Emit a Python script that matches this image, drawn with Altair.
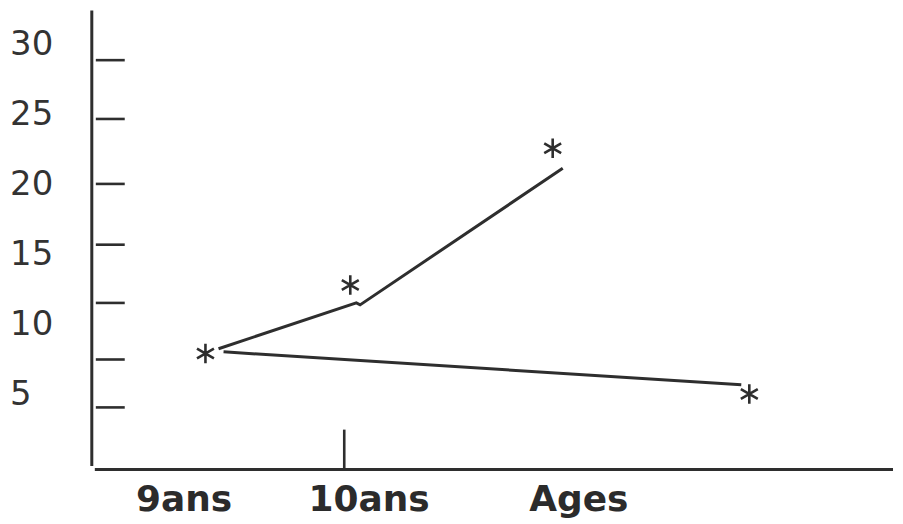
import altair as alt
import pandas as pd

# ---- data ----
y_label_values = [30, 25, 20, 15, 10, 5]
y_tick_values = [28.95, 24.74, 20.09, 15.74, 11.57, 7.52, 4.09]

line1_x = [9.50, 10.048, 10.063, 10.869]
line1_y = [8.29, 11.57, 11.43, 21.21]
line2_x = [9.52, 11.579]
line2_y = [8.07, 5.71]

star_x = [9.448, 10.024, 10.829, 11.611]
star_y = [7.95, 12.85, 22.65, 5.05]

x_labels = ["9ans", "10ans", "Ages"]
x_label_pos = [9.363, 10.099, 10.933]
x_label_y = -2.57

x_tick_pos = [10.0]

# axis frame (data units)
y_axis_x = 8.996
y_axis_range = [32.5, -0.1]
x_axis_y = -0.35
x_axis_range = [9.008, 12.1825]
y_tick_span = [9.012, 9.127]
x_tick_span = [2.5, -0.3]
y_label_x = 8.671

# ---- scales ----
XDOM = [8.6627, 12.1825]
YDOM = [-3.786, 32.5]
xs = alt.Scale(domain=XDOM, nice=False, zero=False)
ys = alt.Scale(domain=YDOM, nice=False, zero=False)
INK = "#2e2e2e"

def X(f):
    return alt.X(f, type="quantitative", scale=xs, axis=None)

def Y(f):
    return alt.Y(f, type="quantitative", scale=ys, axis=None)

lines_df = pd.DataFrame({
    "x": line1_x + line2_x,
    "y": line1_y + line2_y,
    "s": ["a"] * len(line1_x) + ["b"] * len(line2_x),
    "o": list(range(len(line1_x))) + list(range(len(line2_x))),
})
stars_df = pd.DataFrame({"x": star_x, "y": star_y})
ytick_df = pd.DataFrame({"y": y_tick_values, "x": y_tick_span[0], "x2": y_tick_span[1]})
ylab_df = pd.DataFrame({"y": y_label_values, "t": [str(v) for v in y_label_values], "x": y_label_x})
xlab_df = pd.DataFrame({"x": x_label_pos, "t": x_labels, "y": [x_label_y] * len(x_labels)})
xtick_df = pd.DataFrame({"x": x_tick_pos, "y": x_tick_span[0], "y2": x_tick_span[1]})
yaxis_df = pd.DataFrame({"x": [y_axis_x], "y": [y_axis_range[0]], "y2": [y_axis_range[1]]})
xaxis_df = pd.DataFrame({"x": [x_axis_range[0]], "x2": [x_axis_range[1]], "y": [x_axis_y]})

y_axis = alt.Chart(yaxis_df).mark_rule(color=INK, strokeWidth=3).encode(
    x=X("x"), y=Y("y"), y2="y2:Q"
)
x_axis = alt.Chart(xaxis_df).mark_rule(color=INK, strokeWidth=3).encode(
    x=X("x"), x2="x2:Q", y=Y("y")
)
yticks = alt.Chart(ytick_df).mark_rule(color=INK, strokeWidth=2.6).encode(
    x=X("x"), x2="x2:Q", y=Y("y")
)
xticks = alt.Chart(xtick_df).mark_rule(color=INK, strokeWidth=2.6).encode(
    x=X("x"), y=Y("y"), y2="y2:Q"
)
ylabels = alt.Chart(ylab_df).mark_text(
    align="left", baseline="middle", font="DejaVu Sans", fontSize=34, color="#333333"
).encode(x=X("x"), y=Y("y"), text="t:N")
xlabels = alt.Chart(xlab_df).mark_text(
    align="center", baseline="middle", font="DejaVu Sans", fontSize=36,
    fontWeight="bold", color="#2b2b2b"
).encode(x=X("x"), y=Y("y"), text="t:N")
lines = alt.Chart(lines_df).mark_line(color=INK, strokeWidth=3).encode(
    x=X("x"), y=Y("y"), detail="s:N", order="o:Q"
)
ASTERISK = "M0,-1L0,1M-0.87,-0.5L0.87,0.5M-0.87,0.5L0.87,-0.5"
stars = alt.Chart(stars_df).mark_point(
    shape=ASTERISK, size=380, filled=False, color=INK, strokeWidth=2.6, opacity=1
).encode(x=X("x"), y=Y("y"))

chart = alt.layer(y_axis, x_axis, yticks, xticks, ylabels, xlabels, lines, stars).properties(
    width=887, height=508, padding=0, background="white"
).configure_view(stroke=None)

chart.save("out.html", embed_options={"renderer": "svg", "actions": False})
